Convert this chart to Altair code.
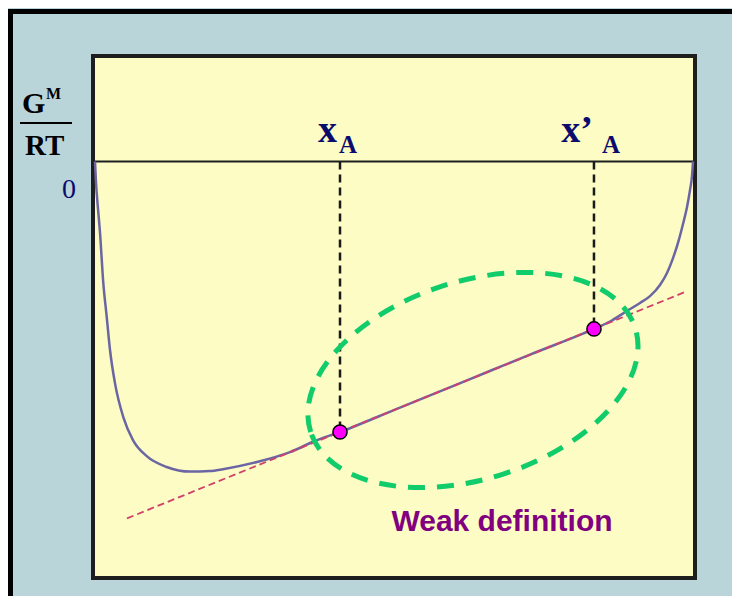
import altair as alt
import pandas as pd

# G^M/RT curve (composition fraction vs reduced Gibbs energy of mixing)
curve_x = [0.0, 0.0017, 0.0038, 0.0084, 0.0139, 0.0196, 0.0251, 0.0334, 0.0473, 0.0635,
           0.0865, 0.1199, 0.1589, 0.1923, 0.2140, 0.2709, 0.3261, 0.3679, 0.4097, 0.5100,
           0.6221, 0.7274, 0.8344, 0.8612, 0.8896, 0.9114, 0.9281, 0.9448, 0.9565, 0.9666,
           0.9749, 0.9833, 0.9900, 0.9950, 0.9983, 1.0]
curve_y = [0.0, -0.069, -0.124, -0.231, -0.393, -0.502, -0.609, -0.716, -0.826, -0.900,
           -0.952, -0.987, -1.002, -1.000, -0.994, -0.971, -0.939, -0.903, -0.874, -0.795,
           -0.707, -0.624, -0.541, -0.517, -0.483, -0.457, -0.435, -0.399, -0.360, -0.312,
           -0.263, -0.202, -0.147, -0.092, -0.047, 0.0]

# common tangent
tangent_x = [0.0535, 0.9883]
tangent_y = [-1.153, -0.4204]

# tangent points x_A and x'_A
point_names = ["x_A", "x'_A"]
point_x = [0.4097, 0.8344]
point_y = [-0.874, -0.541]

# highlighted region and note
ellipse_x = [0.632]
ellipse_y = [-0.706]
note_text = ["Weak definition"]
note_x = [0.6806]
note_y = [-1.194]

curve_df = pd.DataFrame({"x": curve_x, "y": curve_y})
tan_df = pd.DataFrame({"x": tangent_x, "y": tangent_y})
pts_df = pd.DataFrame({"name": point_names, "x": point_x, "y": point_y, "y0": [0.0, 0.0]})
ell_df = pd.DataFrame({"x": ellipse_x, "y": ellipse_y})
note_df = pd.DataFrame({"t": note_text, "x": note_x, "y": note_y})
zero_df = pd.DataFrame({"y": [0.0]})
one = pd.DataFrame({"k": [0]})

xs = alt.Scale(domain=[0, 1], range=[2, 600], nice=False, zero=False)
ys = alt.Scale(domain=[-1, 0], range=[415, 105.5], nice=False, zero=False)


def X(f="x"):
    return alt.X(f, type="quantitative", scale=xs, axis=None)


def Y(f="y"):
    return alt.Y(f, type="quantitative", scale=ys, axis=None)


NAVY = "#0b0b6e"
SERIF = "Liberation Serif"

left_bar = alt.Chart(one).mark_rect(color="black").encode(
    x=alt.value(-85), x2=alt.value(-80), y=alt.value(-47), y2=alt.value(560))
top_bar = alt.Chart(one).mark_rect(color="black").encode(
    x=alt.value(-85), x2=alt.value(700), y=alt.value(-47), y2=alt.value(-42))

zero_line = alt.Chart(zero_df).mark_rule(color="#1e1e1e", strokeWidth=2).encode(
    x=alt.value(0), x2=alt.value(602), y=Y())

curve = alt.Chart(curve_df).mark_line(color="#6b66a3", strokeWidth=2.5,
                                      interpolate="monotone").encode(x=X(), y=Y())

tangent = alt.Chart(tan_df).mark_line(color="#d0406a", strokeWidth=1.8,
                                      strokeDash=[7, 4]).encode(x=X(), y=Y())

verticals = alt.Chart(pts_df).mark_rule(color="#1a1a1a", strokeWidth=2.5,
                                        strokeDash=[8, 5]).encode(
    x=X(), y=Y("y0"), y2="y")

ell_path = ("M -1 0 C -1 -0.3203 -0.5523 -0.58 0 -0.58 C 0.5523 -0.58 1 -0.3203 1 0 "
            "C 1 0.3203 0.5523 0.58 0 0.58 C -0.5523 0.58 -1 0.3203 -1 0 Z")
ellipse = alt.Chart(ell_df).mark_point(shape=ell_path, filled=False, color="#11cc6a",
                                       strokeWidth=5, strokeDash=[17, 12], size=116143,
                                       angle=342.2, opacity=1).encode(x=X(), y=Y())

points = alt.Chart(pts_df).mark_point(shape="circle", filled=True, fill="#ff00ff",
                                      stroke="black", strokeWidth=1.5, size=200,
                                      opacity=1).encode(x=X(), y=Y())

lab_x1 = alt.Chart(pts_df.iloc[[0]]).mark_text(text="x", font=SERIF, fontWeight="bold",
                                               fontSize=38, color=NAVY, align="right",
                                               baseline="alphabetic", dx=-3).encode(
    x=X(), y=alt.value(86))
lab_a1 = alt.Chart(pts_df.iloc[[0]]).mark_text(text="A", font=SERIF, fontWeight="bold",
                                               fontSize=25, color=NAVY, align="left",
                                               baseline="alphabetic", dx=-1).encode(
    x=X(), y=alt.value(97))
lab_x2 = alt.Chart(pts_df.iloc[[1]]).mark_text(text="x\u2019", font=SERIF, fontWeight="bold",
                                               fontSize=38, color=NAVY, align="right",
                                               baseline="alphabetic", dx=-1).encode(
    x=X(), y=alt.value(86))
lab_a2 = alt.Chart(pts_df.iloc[[1]]).mark_text(text="A", font=SERIF, fontWeight="bold",
                                               fontSize=25, color=NAVY, align="left",
                                               baseline="alphabetic", dx=8).encode(
    x=X(), y=alt.value(97))

g_txt = alt.Chart(one).mark_text(text="G", font=SERIF, fontWeight="bold", fontSize=30,
                                 color="black", align="left", baseline="alphabetic").encode(
    x=alt.value(-71), y=alt.value(57))
m_txt = alt.Chart(one).mark_text(text="M", font=SERIF, fontWeight="bold", fontSize=16,
                                 color="black", align="left", baseline="alphabetic").encode(
    x=alt.value(-47), y=alt.value(43))
frac = alt.Chart(one).mark_rule(color="black", strokeWidth=2).encode(
    x=alt.value(-73), x2=alt.value(-21), y=alt.value(67))
rt_txt = alt.Chart(one).mark_text(text="RT", font=SERIF, fontWeight="bold", fontSize=29,
                                  color="black", align="left", baseline="alphabetic").encode(
    x=alt.value(-68), y=alt.value(99))
zero_txt = alt.Chart(one).mark_text(text="0", font=SERIF, fontSize=28, color=NAVY,
                                    align="right", baseline="alphabetic").encode(
    x=alt.value(-17), y=alt.value(142))

note = alt.Chart(note_df).mark_text(font="Liberation Sans", fontWeight="bold", fontSize=30,
                                    color="#800080", align="center",
                                    baseline="alphabetic").encode(x=X(), y=Y(), text="t:N")

chart = alt.layer(
    left_bar, top_bar, zero_line, curve, tangent, verticals, ellipse, points,
    lab_x1, lab_a1, lab_x2, lab_a2, g_txt, m_txt, frac, rt_txt, zero_txt, note
).properties(
    width=602, height=522,
    autosize=alt.AutoSizeParams(type="none"),
    padding={"left": 85, "top": 48, "right": 37, "bottom": 18},
    background="#bad5d9",
).configure_view(fill="#fcfcc4", stroke="#1e1e1e", strokeWidth=4)

chart.save("out.html", embed_options={"renderer": "svg", "actions": False})
